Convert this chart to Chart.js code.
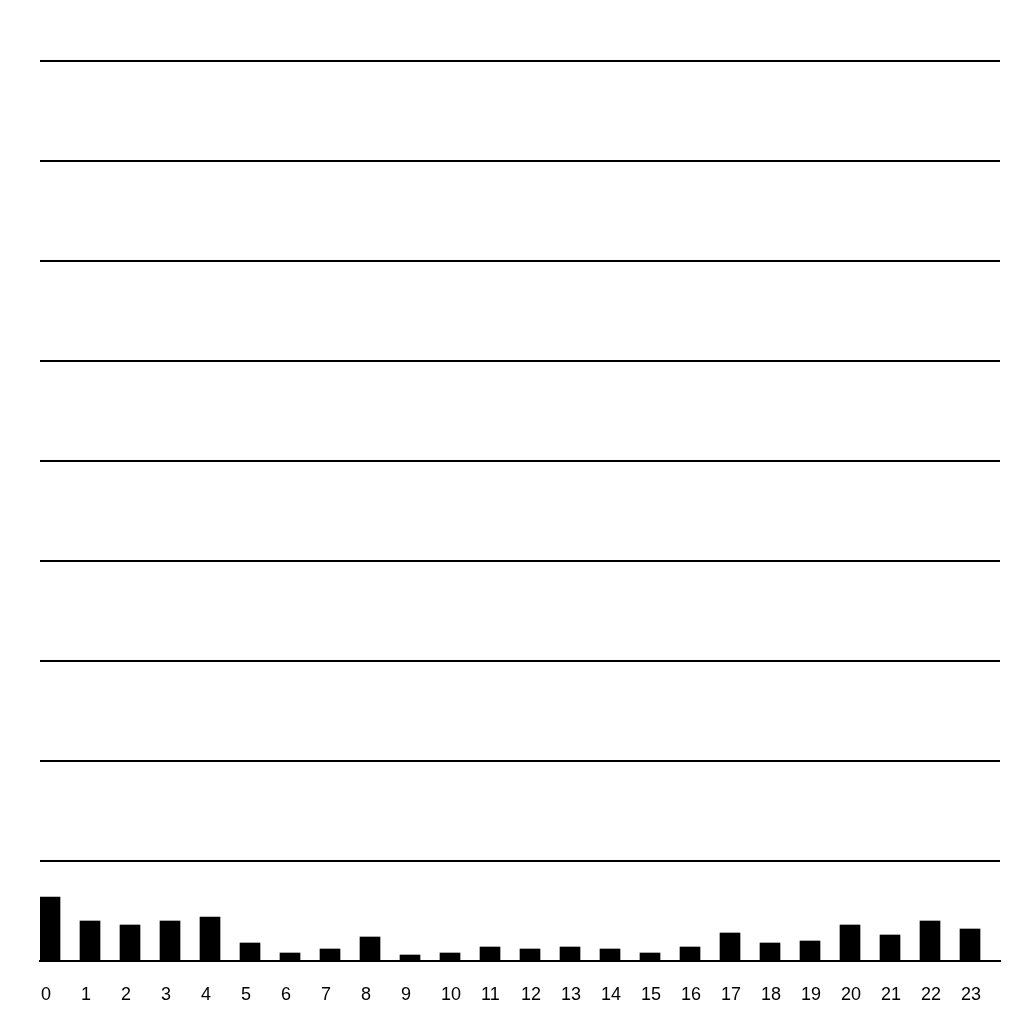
<!DOCTYPE html>
<html>
<head>
<meta charset="utf-8">
<style>
  html, body { margin: 0; padding: 0; background: #fff; }
  #wrap { width: 1024px; height: 1024px; }
</style>
<script src="https://cdn.jsdelivr.net/npm/chart.js@4/dist/chart.umd.min.js"></script>
</head>
<body>
<div id="wrap"><canvas id="c" width="1024" height="1024"></canvas></div>
<script>
const categories = ["0","1","2","3","4","5","6","7","8","9","10","11","12","13","14","15","16","17","18","19","20","21","22","23"];
const counts = [32, 20, 18, 20, 22, 9, 4, 6, 12, 3, 4, 7, 6, 7, 6, 4, 7, 14, 9, 10, 18, 13, 20, 16];
const spacer = categories.map(() => 0);
const yMax = 450;
const yStep = 50;

new Chart(document.getElementById('c'), {
  type: 'bar',
  data: {
    labels: categories,
    datasets: [
      { data: counts, backgroundColor: '#000', borderWidth: 0, categoryPercentage: 1, barPercentage: 1 },
      { data: spacer, backgroundColor: 'rgba(0,0,0,0)', borderWidth: 0, categoryPercentage: 1, barPercentage: 1 }
    ]
  },
  options: {
    responsive: false,
    animation: false,
    devicePixelRatio: 1,
    layout: { padding: { left: 40, right: 24, top: 61, bottom: 0 } },
    plugins: { legend: { display: false }, tooltip: { enabled: false } },
    scales: {
      x: {
        grid: { display: false, drawTicks: false },
        border: { display: true, color: '#000', width: 2 },
        ticks: {
          color: '#000',
          font: { family: 'Liberation Sans, Arial, sans-serif', size: 18 },
          align: 'start',
          labelOffset: -19,
          padding: 23,
          maxRotation: 0,
          autoSkip: false
        },
        afterFit(scale) {
          scale.paddingLeft = 0;
          scale.paddingRight = 0;
          scale.height = 63;
        }
      },
      y: {
        min: 0,
        max: yMax,
        ticks: { display: false, stepSize: yStep },
        grid: { color: '#000', lineWidth: 2, drawTicks: false },
        border: { display: false }
      }
    }
  }
});
</script>
</body>
</html>
